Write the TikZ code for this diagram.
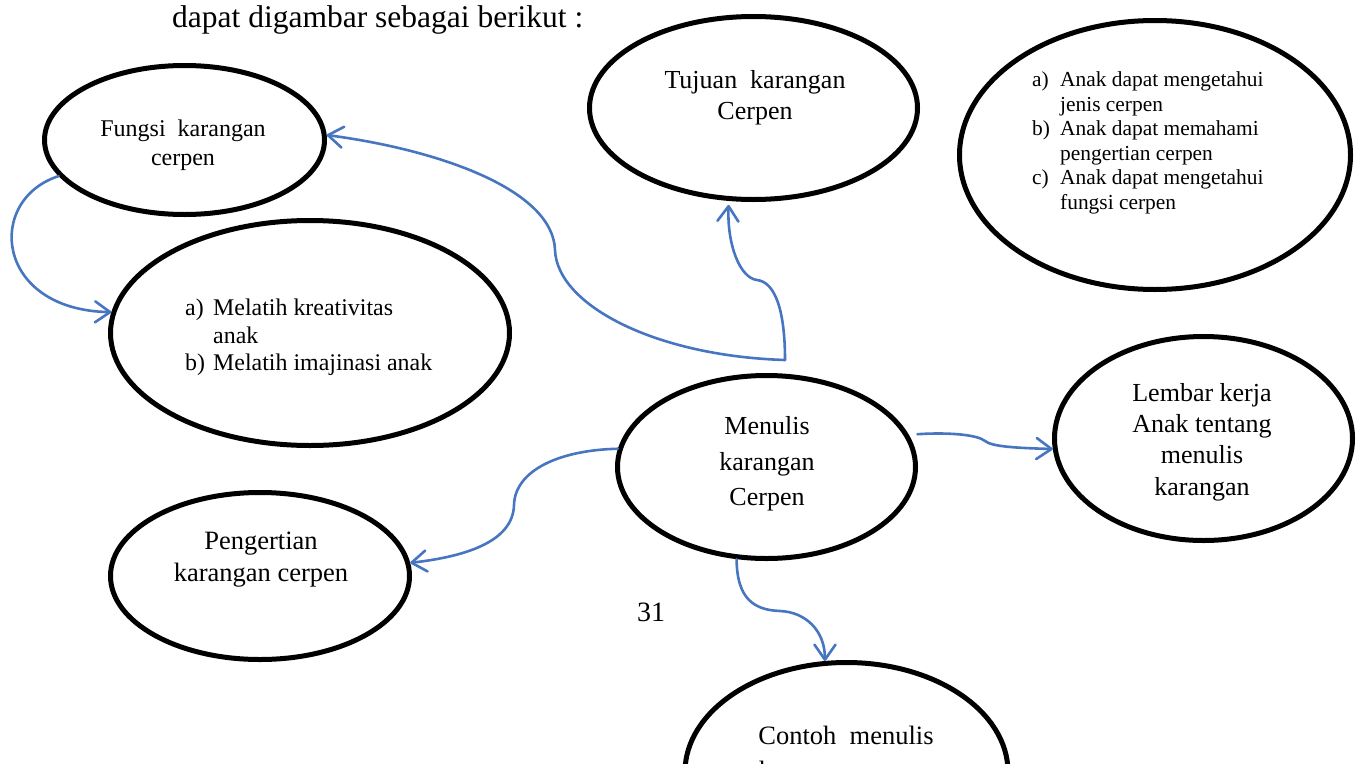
\documentclass[tikz,border=0pt]{standalone}
\usepackage{fontspec}
\setmainfont{Liberation Serif}
\usetikzlibrary{arrows.meta,shapes.geometric}
\definecolor{connblue}{HTML}{4775C0}
\begin{document}
\begin{tikzpicture}[x=1pt,y=-1pt,
  oval/.style={ellipse, draw=black, line width=5pt, inner sep=0pt},
  txt/.style={inner sep=0pt, align=center},
  conn/.style={draw=connblue, line width=2.6pt, line cap=round,
    -{Straight Barb[length=15pt,width=21pt,line cap=round,line join=round]}}]
\useasboundingbox (0,0) rectangle (1362,763);
\clip (0,0) rectangle (1362,763);

% heading and page number
\node[inner sep=0pt, anchor=base west, font=\fontsize{31.5}{36}\selectfont] (head) at (172,27)
  {dapat digambar sebagai berikut :};
\node[inner sep=0pt, font=\fontsize{28}{32}\selectfont] (pnum) at (651,612) {31};

% ellipses
\node[oval, minimum width=280pt, minimum height=149pt] (fungsi) at (184.5,140) {};
\node[txt, font=\fontsize{24}{29}\selectfont] (fungsiT) at (183,145.5) {Fungsi\ \ karangan\\cerpen};

\node[oval, minimum width=328pt, minimum height=183pt] (tujuan) at (753.5,108) {};
\node[txt, font=\fontsize{26}{31}\selectfont] (tujuanT) at (755,98) {Tujuan\ \ karangan\\Cerpen};

\node[oval, minimum width=391pt, minimum height=269pt] (tujuanlist) at (1155,155) {};
\node[inner sep=0pt, anchor=west, font=\fontsize{21.4}{24.6}\selectfont] (tujuanlistT) at (1032,143)
  {\begin{tabular}{@{}p{28pt}@{}l@{}}
   a) & Anak dapat mengetahui\\
      & jenis cerpen\\
   b) & Anak dapat memahami\\
      & pengertian cerpen\\
   c) & Anak dapat mengetahui\\
      & fungsi cerpen
   \end{tabular}};

\node[oval, minimum width=399pt, minimum height=225pt] (melatih) at (310,333) {};
\node[inner sep=0pt, anchor=west, font=\fontsize{23.9}{27.8}\selectfont] (melatihT) at (185,337.5)
  {\begin{tabular}{@{}p{28pt}@{}l@{}}
   a) & Melatih kreativitas\\
      & anak\\
   b) & Melatih imajinasi anak
   \end{tabular}};

\node[oval, minimum width=298pt, minimum height=183pt] (menulis) at (766.5,467) {};
\node[txt, font=\fontsize{26}{35.5}\selectfont] (menulisT) at (767,464) {Menulis\\karangan\\Cerpen};

\node[oval, minimum width=298pt, minimum height=204pt] (lembar) at (1203.5,438.5) {};
\node[txt, font=\fontsize{26}{31.3}\selectfont] (lembarT) at (1202,442) {Lembar kerja\\Anak tentang\\menulis\\karangan};

\node[oval, minimum width=299pt, minimum height=167pt] (pengertian) at (260,576) {};
\node[txt, font=\fontsize{26.5}{32}\selectfont] (pengertianT) at (261,560) {Pengertian\\karangan cerpen};

\node[oval, minimum width=323pt, minimum height=219pt] (contoh) at (846.5,772) {};
\node[txt, font=\fontsize{26.5}{35}\selectfont] (contohT) at (846,756) {Contoh\ \ menulis\\karangan cerpen};

% connectors
\coordinate (hub) at ([shift={(18.5,-13)}]menulis.north);
\coordinate (rs) at ([xshift=9pt]menulis.13);

\draw[conn] (hub) .. controls (785,310) and (775,282) .. (757,280)
  .. controls (740,278) and (727,245) .. ([yshift=-4pt]tujuan.255);
\draw[conn] (hub) .. controls (655,356) and (557,305) .. (555,250)
  .. controls (553,190) and (440,150) .. (fungsi.2);
\draw[conn] (fungsi.196) .. controls (-15,200) and (-5,310) .. (melatih.174);
\draw[conn] (menulis.173) .. controls (560,450) and (515,470) .. (514,505)
  .. controls (513,540) and (470,556) .. (pengertian.5);
\draw[conn] (rs) .. controls (950,432) and (978,435) .. (985,441)
  .. controls (992,447) and (1020,448) .. (lembar.184);
\draw[conn] (menulis.252) .. controls (737,600) and (755,610) .. (780,611)
  .. controls (805,612) and (825,630) .. (contoh.101);
\end{tikzpicture}
\end{document}
